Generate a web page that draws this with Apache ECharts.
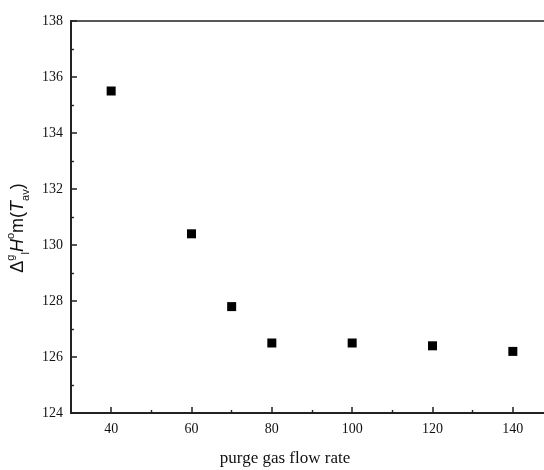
<!DOCTYPE html>
<html>
<head>
<meta charset="utf-8">
<script src="https://cdn.jsdelivr.net/npm/echarts@6/dist/echarts.min.js"></script>
<style>
html, body { margin: 0; padding: 0; background: #fff; }
#chart { width: 544px; height: 470px; }
</style>
</head>
<body>
<div id="chart"></div>
<script>
var flowRates = [40, 60, 70, 80, 100, 120, 140];
var enthalpy = [135.5, 130.4, 127.8, 126.5, 126.5, 126.4, 126.2];
var xMajorTicks = [40, 60, 80, 100, 120, 140];
var xMinorTicks = [50, 70, 90, 110, 130, 150];

var points = flowRates.map(function (x, i) { return [x, enthalpy[i]]; });

var serif = '"Liberation Serif", "DejaVu Serif", serif';
var sans = '"Liberation Sans", Arial, sans-serif';
var axisColor = '#222';

var chart = echarts.init(document.getElementById('chart'));
chart.setOption({
  animation: false,
  grid: {
    left: 71,
    right: -9,
    top: 21,
    bottom: 57,
    outerBoundsMode: 'none',
    show: true,
    borderColor: axisColor,
    borderWidth: 1.5
  },
  xAxis: [{
    type: 'value',
    min: 30,
    max: 150,
    name: 'purge gas flow rate',
    nameLocation: 'middle',
    nameGap: 37,
    nameTextStyle: { fontFamily: serif, fontSize: 17, color: '#111', padding: [0, 54, 0, 0] },
    axisLine: { show: true, onZero: false, lineStyle: { color: axisColor, width: 2 } },
    axisTick: { show: true, inside: true, length: 6, customValues: xMajorTicks, lineStyle: { color: axisColor, width: 1.5 } },
    axisLabel: { fontFamily: serif, fontSize: 14, color: '#111', margin: 9, customValues: xMajorTicks },
    splitLine: { show: false }
  }, {
    type: 'value',
    min: 30,
    max: 150,
    position: 'bottom',
    axisLine: { show: false },
    axisTick: { show: true, inside: true, length: 3, customValues: xMinorTicks, lineStyle: { color: axisColor, width: 1.4 } },
    axisLabel: { show: false },
    splitLine: { show: false }
  }],
  yAxis: {
    type: 'value',
    min: 124,
    max: 138,
    interval: 2,
    name: '{d|\u0394}{sup|g}{sub|l}{i|H}{sup|o}{n|m(}{i|T}{sub|av}{n|)}',
    nameLocation: 'middle',
    nameRotate: 90,
    nameGap: 36,
    nameTextStyle: {
      fontFamily: sans, fontSize: 18, color: '#111',
      padding: [0, 22, 0, 0],
      rich: {
        d: { fontFamily: sans, fontSize: 18, color: '#111', lineHeight: 26, verticalAlign: 'middle' },
        n: { fontFamily: sans, fontSize: 18, color: '#111', lineHeight: 26, verticalAlign: 'middle' },
        i: { fontFamily: sans, fontSize: 18, fontStyle: 'italic', color: '#111', lineHeight: 26, verticalAlign: 'middle' },
        sup: { fontFamily: sans, fontSize: 11, color: '#111', lineHeight: 26, verticalAlign: 'top', padding: [0, 0, 10, 0] },
        sub: { fontFamily: sans, fontSize: 11, color: '#111', lineHeight: 26, verticalAlign: 'bottom', padding: [8, 0, 0, 0] }
      }
    },
    axisLine: { show: true, onZero: false, lineStyle: { color: axisColor, width: 2 } },
    axisTick: { show: true, inside: true, length: 6, lineStyle: { color: axisColor, width: 1.5 } },
    minorTick: { show: true, splitNumber: 2, length: 3, lineStyle: { color: axisColor, width: 1.4 } },
    axisLabel: { fontFamily: serif, fontSize: 14, color: '#111', margin: 8 },
    splitLine: { show: false }
  },
  series: [{
    type: 'scatter',
    data: points,
    symbol: 'rect',
    symbolSize: 9,
    itemStyle: { color: '#000', opacity: 1 }
  }]
});
</script>
</body>
</html>
